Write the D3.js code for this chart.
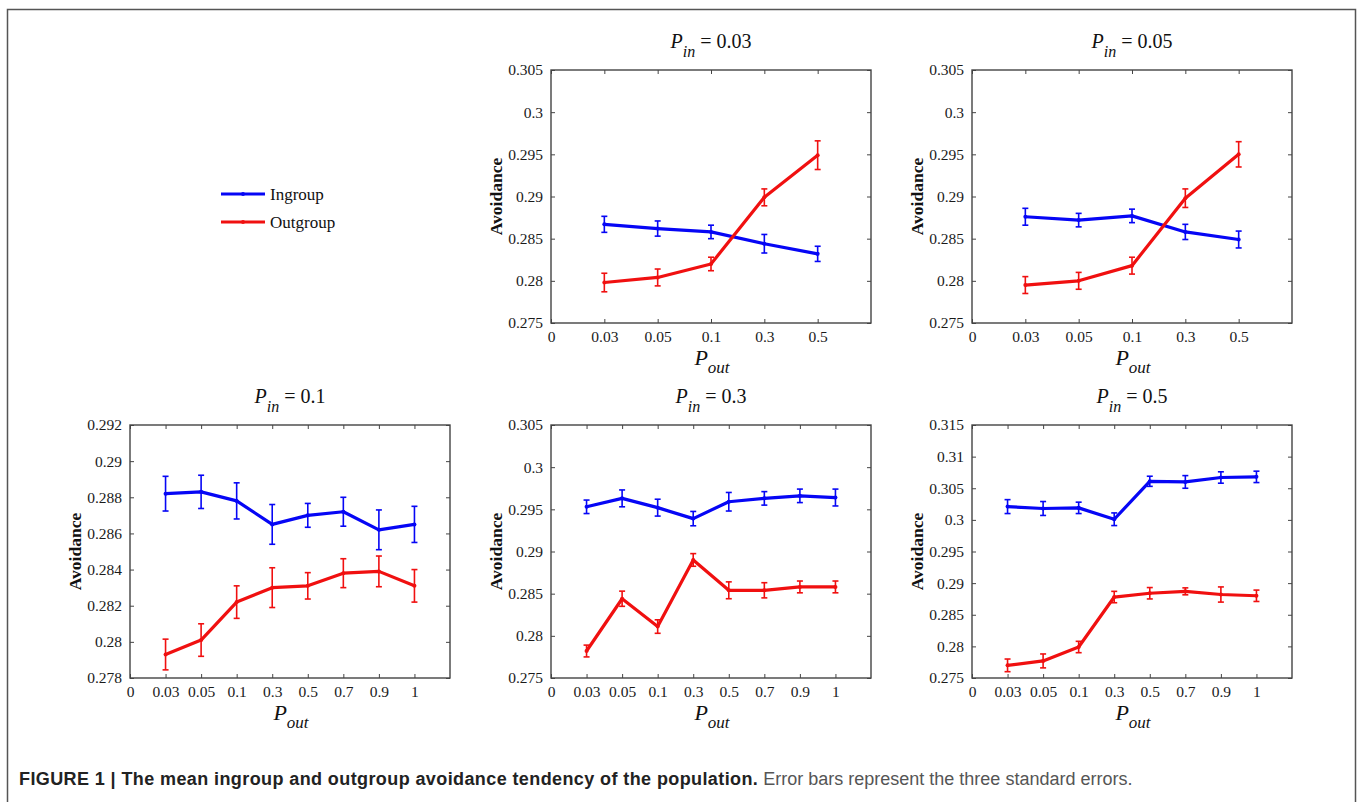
<!DOCTYPE html>
<html>
<head>
<meta charset="utf-8">
<script src="https://cdn.jsdelivr.net/npm/d3@7"></script>
<style>
  body { margin: 0; background: #fff; }
  svg { display: block; }
</style>
</head>
<body>
<div id="chart"></div>
<script>
// P_in value for each panel
var panelPin = ["0.03", "0.05", "0.1", "0.3", "0.5"];

// P_out tick labels (index 0 is the "0" at the left edge)
var poutShort = ["0", "0.03", "0.05", "0.1", "0.3", "0.5"];
var poutLong = ["0", "0.03", "0.05", "0.1", "0.3", "0.5", "0.7", "0.9", "1"];

// y axis ranges [min, max, step]
var yRanges = [
  [0.275, 0.305, 0.005],
  [0.275, 0.305, 0.005],
  [0.278, 0.292, 0.002],
  [0.275, 0.305, 0.005],
  [0.275, 0.315, 0.005]
];

var ingroup = [
  [0.2867, 0.2862, 0.2858, 0.2844, 0.2832],
  [0.2876, 0.2872, 0.2877, 0.2858, 0.2849],
  [0.2882, 0.2883, 0.2878, 0.2865, 0.2870, 0.2872, 0.2862, 0.2865],
  [0.2953, 0.2963, 0.2952, 0.2939, 0.2959, 0.2963, 0.2966, 0.2964],
  [0.3021, 0.3018, 0.3019, 0.3001, 0.3061, 0.3060, 0.3067, 0.3068]
];
var ingroupErr = [
  [0.00095, 0.0009, 0.0008, 0.0011, 0.0009],
  [0.0010, 0.0008, 0.0008, 0.0009, 0.0010],
  [0.00096, 0.00092, 0.0010, 0.0011, 0.00066, 0.0008, 0.0011, 0.0010],
  [0.0008, 0.0010, 0.0010, 0.00085, 0.0011, 0.0008, 0.0008, 0.0010],
  [0.0011, 0.0011, 0.0009, 0.0010, 0.0008, 0.0010, 0.0009, 0.0009]
];
var outgroup = [
  [0.2798, 0.2804, 0.2820, 0.2899, 0.2949],
  [0.2795, 0.2800, 0.2818, 0.2898, 0.2950],
  [0.2793, 0.2801, 0.2822, 0.2830, 0.2831, 0.2838, 0.2839, 0.2831],
  [0.2782, 0.2844, 0.2811, 0.2890, 0.2854, 0.2854, 0.2858, 0.2858],
  [0.2770, 0.2777, 0.2799, 0.2878, 0.2884, 0.2887, 0.2882, 0.2880]
];
var outgroupErr = [
  [0.0011, 0.0010, 0.0008, 0.0010, 0.0017],
  [0.0010, 0.0010, 0.0010, 0.0011, 0.0015],
  [0.00085, 0.0009, 0.0009, 0.0011, 0.00073, 0.0008, 0.00085, 0.0009],
  [0.0007, 0.0009, 0.0008, 0.00075, 0.0010, 0.0009, 0.0007, 0.0007],
  [0.0010, 0.0011, 0.0009, 0.0009, 0.0009, 0.00055, 0.0012, 0.0009]
];

var seriesNames = ["Ingroup", "Outgroup"];
var seriesColours = ["#0606f5", "#f01010"];

var W = 1357, H = 802;
var serif = "'Liberation Serif', 'Times New Roman', serif";

var svg = d3.select("#chart").append("svg")
  .attr("width", W)
  .attr("height", H);

// figure frame (open at the bottom like the page crop)
svg.append("path")
  .attr("d", "M7.5," + H + "V9.5H1355.5V" + H)
  .attr("fill", "none")
  .attr("stroke", "#555")
  .attr("stroke-width", 1.5);

// panel placement
var pw = 320, ph = 253;
var slots = [
  {x: 551, y: 70}, {x: 972, y: 70},
  {x: 130, y: 425}, {x: 551, y: 425}, {x: 972, y: 425}
];

function fmt(v) { return String(+v.toFixed(3)); }

slots.forEach(function(slot, p) {
  var labels = ingroup[p].length > 5 ? poutLong : poutShort;
  var n = labels.length;
  var x = d3.scaleLinear().domain([0, n]).range([0, pw]);
  var yr = yRanges[p];
  var y = d3.scaleLinear().domain([yr[0], yr[1]]).range([ph, 0]);
  var yTicks = d3.range(yr[0], yr[1] + yr[2] / 2, yr[2]);

  var g = svg.append("g").attr("transform", "translate(" + slot.x + "," + slot.y + ")");

  g.append("rect")
    .attr("width", pw).attr("height", ph)
    .attr("fill", "#fff");

  g.append("g").attr("transform", "translate(0," + ph + ")")
    .call(d3.axisBottom(x).tickValues(d3.range(n)).tickFormat(function(d) { return labels[d]; })
      .tickSize(-4).tickPadding(8));
  g.append("g")
    .call(d3.axisTop(x).tickValues(d3.range(n)).tickFormat("").tickSize(-4));
  g.append("g")
    .call(d3.axisLeft(y).tickValues(yTicks).tickFormat(fmt).tickSize(-4).tickPadding(8));
  g.append("g").attr("transform", "translate(" + pw + ",0)")
    .call(d3.axisRight(y).tickValues(yTicks).tickFormat("").tickSize(-4));

  g.selectAll(".domain").remove();
  g.selectAll(".tick line").attr("stroke", "#444").attr("stroke-width", 1);
  g.selectAll(".tick text")
    .style("font-family", serif)
    .style("font-size", "15.5px")
    .attr("fill", "#1a1a1a");

  g.append("rect")
    .attr("width", pw).attr("height", ph)
    .attr("fill", "none")
    .attr("stroke", "#444")
    .attr("stroke-width", 1.4);

  // series: error bars, line, markers
  [[ingroup[p], ingroupErr[p]], [outgroup[p], outgroupErr[p]]].forEach(function(s, k) {
    var vals = s[0], errs = s[1], col = seriesColours[k];
    var pts = vals.map(function(v, i) { return {i: i + 1, v: v, e: errs[i]}; });

    var eb = g.append("g").attr("stroke", col).attr("stroke-width", 1.6);
    pts.forEach(function(d) {
      var cx = x(d.i), top = y(d.v + d.e), bot = y(d.v - d.e);
      eb.append("line").attr("x1", cx).attr("x2", cx).attr("y1", top).attr("y2", bot);
      eb.append("line").attr("x1", cx - 3).attr("x2", cx + 3).attr("y1", top).attr("y2", top);
      eb.append("line").attr("x1", cx - 3).attr("x2", cx + 3).attr("y1", bot).attr("y2", bot);
    });

    g.append("path")
      .datum(pts)
      .attr("fill", "none")
      .attr("stroke", col)
      .attr("stroke-width", 3.2)
      .attr("stroke-linejoin", "round")
      .attr("d", d3.line().x(function(d) { return x(d.i); }).y(function(d) { return y(d.v); }));

    g.selectAll(null).data(pts).enter().append("circle")
      .attr("cx", function(d) { return x(d.i); })
      .attr("cy", function(d) { return y(d.v); })
      .attr("r", 2)
      .attr("fill", col);
  });

  // title  P_in = ...
  var t = g.append("text")
    .attr("x", pw / 2).attr("y", -22)
    .attr("text-anchor", "middle")
    .style("font-family", serif)
    .style("font-size", "20px")
    .attr("fill", "#111");
  t.append("tspan").style("font-style", "italic").text("P");
  t.append("tspan").style("font-style", "italic").style("font-size", "16px").attr("dy", 9).text("in");
  t.append("tspan").attr("dy", -9).text(" = " + panelPin[p]);

  // x label  P_out
  var xl = g.append("text")
    .attr("x", pw / 2 + 1).attr("y", ph + 42)
    .attr("text-anchor", "middle")
    .style("font-family", serif)
    .style("font-size", "22px")
    .attr("fill", "#111");
  xl.append("tspan").style("font-style", "italic").text("P");
  xl.append("tspan").style("font-style", "italic").style("font-size", "17px").attr("dy", 8).text("out");

  // y label
  g.append("text")
    .attr("transform", "translate(-49," + ph / 2 + ") rotate(-90)")
    .attr("text-anchor", "middle")
    .style("font-family", serif)
    .style("font-size", "17.5px")
    .style("font-weight", "bold")
    .attr("fill", "#111")
    .text("Avoidance");
});

// legend
var legend = svg.append("g").attr("transform", "translate(221,194)");
seriesNames.forEach(function(name, k) {
  var row = legend.append("g").attr("transform", "translate(0," + k * 28 + ")");
  row.append("line").attr("x1", 0).attr("x2", 44).attr("y1", 0).attr("y2", 0)
    .attr("stroke", seriesColours[k]).attr("stroke-width", 3.2);
  row.append("circle").attr("cx", 22).attr("cy", 0).attr("r", 2).attr("fill", seriesColours[k]);
  row.append("text")
    .attr("x", 49).attr("y", 6)
    .style("font-family", serif)
    .style("font-size", "17px")
    .attr("fill", "#111")
    .text(name);
});

// caption
var cap = svg.append("text")
  .attr("x", 19).attr("y", 785)
  .style("font-family", "'Liberation Sans', Arial, sans-serif")
  .style("font-size", "18px");
cap.append("tspan")
  .style("font-weight", "bold")
  .style("letter-spacing", "0.4px")
  .attr("fill", "#222")
  .text("FIGURE 1 | The mean ingroup and outgroup avoidance tendency of the population.");
cap.append("tspan")
  .attr("fill", "#555")
  .text(" Error bars represent the three standard errors.");
</script>
</body>
</html>
